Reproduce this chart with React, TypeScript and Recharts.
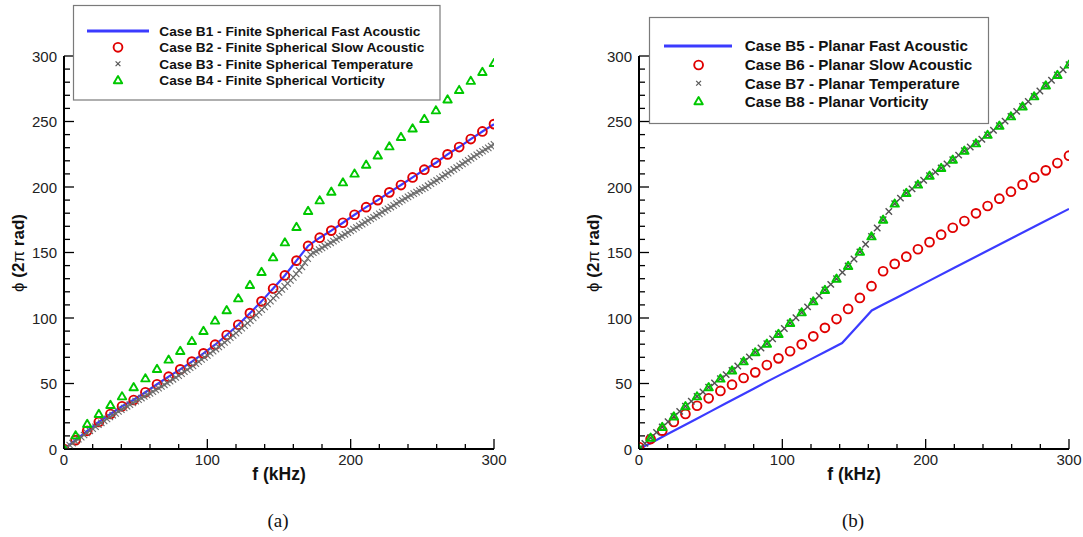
import React from 'react';
import { ComposedChart, XAxis, YAxis, Line, Scatter } from 'recharts';

// ---------- shared sample frequencies (kHz) ----------
const F_COARSE = [0, 8.1, 16.2, 24.3, 32.4, 40.5, 48.6, 56.8, 64.9, 73.0, 81.1, 89.2, 97.3, 105.4, 113.5, 121.6, 129.7, 137.8, 145.9, 154.1, 162.2, 170.3, 178.4, 186.5, 194.6, 202.7, 210.8, 218.9, 227.0, 235.1, 243.2, 251.4, 259.5, 267.6, 275.7, 283.8, 291.9, 300.0];

// ---------- panel (a): finite spherical ----------
const B1_PHASE = [0, 6.8, 13.9, 20.6, 26.7, 32.6, 37.6, 43.3, 49.4, 55.2, 60.8, 66.7, 73.0, 79.6, 87.0, 94.8, 103.7, 112.7, 122.5, 132.5, 143.8, 155.0, 161.3, 166.7, 172.7, 178.8, 184.6, 190.0, 195.9, 201.5, 207.3, 213.2, 218.5, 224.9, 230.5, 236.6, 242.4, 248.0];
const B2_PHASE = [0, 6.8, 13.9, 20.6, 26.7, 32.6, 37.4, 43.3, 49.4, 55.2, 60.8, 66.7, 73.0, 79.6, 87.0, 94.8, 103.7, 112.7, 122.5, 132.5, 143.8, 155.0, 161.3, 166.7, 172.7, 178.8, 184.6, 190.0, 195.9, 201.5, 207.3, 213.2, 218.5, 224.9, 230.5, 236.6, 242.4, 248.0];
const B3_FREQ = [0, 2, 4, 6, 8, 10, 12, 14, 16, 18, 20, 22, 24, 26, 28, 30, 32, 34, 36, 38, 40, 42, 44, 46, 48, 50, 52, 54, 56, 58, 60, 62, 64, 66, 68, 70, 72, 74, 76, 78, 80, 82, 84, 86, 88, 90, 92, 94, 96, 98, 100, 102, 104, 106, 108, 110, 112, 114, 116, 118, 120, 122, 124, 126, 128, 130, 132, 134, 136, 138, 140, 142, 144, 146, 148, 150, 152, 154, 156, 158, 160, 162, 164, 166, 168, 170, 172, 174, 176, 178, 180, 182, 184, 186, 188, 190, 192, 194, 196, 198, 200, 202, 204, 206, 208, 210, 212, 214, 216, 218, 220, 222, 224, 226, 228, 230, 232, 234, 236, 238, 240, 242, 244, 246, 248, 250, 252, 254, 256, 258, 260, 262, 264, 266, 268, 270, 272, 274, 276, 278, 280, 282, 284, 286, 288, 290, 292, 294, 296, 298, 300];
const B3_PHASE = [0, 1.5, 3.0, 4.5, 6.0, 7.5, 9.1, 10.7, 12.3, 13.9, 15.5, 17.0, 18.5, 20.0, 21.5, 23.0, 24.4, 25.8, 27.2, 28.6, 30.0, 31.3, 32.6, 33.9, 35.2, 36.5, 37.7, 38.9, 40.1, 41.3, 42.5, 43.8, 45.1, 46.4, 47.7, 49.0, 50.4, 51.8, 53.2, 54.6, 56.0, 57.5, 59.0, 60.5, 62.0, 63.5, 65.1, 66.7, 68.3, 69.9, 71.5, 73.1, 74.7, 76.3, 77.9, 79.5, 81.3, 83.1, 84.9, 86.7, 88.5, 90.4, 92.3, 94.2, 96.1, 98.0, 100.1, 102.2, 104.3, 106.4, 108.5, 110.7, 112.9, 115.1, 117.3, 119.5, 121.8, 124.1, 126.4, 128.7, 131.0, 133.7, 136.3, 139.0, 142.2, 145.3, 148.5, 149.8, 151.0, 152.3, 153.5, 154.8, 156.1, 157.4, 158.7, 160.0, 161.3, 162.6, 163.9, 165.2, 166.5, 167.8, 169.1, 170.4, 171.7, 173.0, 174.3, 175.6, 176.9, 178.2, 179.5, 180.8, 182.1, 183.4, 184.7, 186.0, 187.3, 188.6, 189.9, 191.2, 192.5, 193.7, 194.9, 196.1, 197.3, 198.5, 199.5, 201.0, 202.5, 203.8, 205.0, 206.4, 207.8, 209.2, 210.6, 212.0, 213.4, 214.8, 216.2, 217.6, 219.0, 220.4, 221.8, 223.2, 224.6, 226.0, 227.3, 228.6, 229.9, 231.2, 232.5];
const B4_PHASE = [0, 10.4, 19.1, 26.7, 33.6, 40.2, 47.1, 53.9, 61.1, 68.2, 74.8, 82.4, 90.1, 98.0, 105.9, 115.0, 125.2, 135.1, 146.3, 157.7, 169.5, 181.7, 189.8, 196.4, 203.5, 210.2, 217.0, 224.1, 231.0, 238.2, 244.7, 251.9, 258.5, 266.8, 274.0, 281.0, 287.8, 294.6];

// ---------- panel (b): planar ----------
const B5_FREQ = [0, 10, 20, 30, 40, 50, 60, 70, 80, 90, 98.5, 110, 120, 130, 141.7, 150, 162.4, 170, 180, 200, 220, 240, 260, 280, 300];
const B5_PHASE = [0, 5.6, 11.4, 17.1, 22.9, 28.7, 34.5, 40.2, 46.0, 51.8, 56.6, 63.0, 68.6, 74.3, 80.9, 90.8, 105.8, 110.1, 115.7, 127.0, 138.3, 149.6, 160.9, 172.1, 183.3];
const B6_PHASE = [1.5, 7.6, 14.0, 20.6, 26.7, 33.0, 38.7, 44.3, 49.1, 54.2, 58.5, 64.1, 69.2, 74.6, 79.9, 86.0, 92.5, 99.2, 106.9, 115.3, 124.3, 135.7, 141.3, 146.8, 152.5, 157.9, 163.6, 168.9, 174.0, 179.9, 185.5, 191.1, 196.4, 201.8, 207.3, 212.7, 218.3, 223.9];
const B7_FREQ = [0, 4.1, 8.1, 12.2, 16.2, 20.3, 24.3, 28.4, 32.4, 36.5, 40.5, 44.6, 48.6, 52.7, 56.8, 60.8, 64.9, 68.9, 73.0, 77.0, 81.1, 85.1, 89.2, 93.2, 97.3, 101.4, 105.4, 109.5, 113.5, 117.6, 121.6, 125.7, 129.7, 133.8, 137.8, 141.9, 145.9, 150.0, 154.1, 158.1, 162.2, 166.2, 170.3, 174.3, 178.4, 182.4, 186.5, 190.5, 194.6, 198.6, 202.7, 206.8, 210.8, 214.9, 218.9, 223.0, 227.0, 231.1, 235.1, 239.2, 243.2, 247.3, 251.4, 255.4, 259.5, 263.5, 267.6, 271.6, 275.7, 279.7, 283.8, 287.8, 291.9, 295.9, 300.0];
const B7_PHASE = [0, 4.3, 8.6, 12.7, 16.8, 20.8, 24.8, 28.7, 32.6, 36.4, 40.2, 43.6, 47.1, 50.4, 53.7, 56.8, 59.9, 63.4, 66.9, 70.3, 73.8, 77.1, 80.4, 84.1, 87.8, 92.0, 96.2, 100.2, 104.3, 108.5, 112.7, 117.0, 121.4, 125.7, 130.0, 134.8, 139.7, 145.0, 150.5, 156.3, 162.3, 168.7, 175.0, 181.3, 187.3, 191.5, 195.4, 198.6, 201.8, 205.2, 208.6, 211.5, 214.5, 217.6, 220.8, 224.3, 227.7, 230.5, 233.3, 236.5, 239.8, 243.3, 246.8, 250.3, 253.9, 257.7, 261.5, 265.3, 269.2, 273.3, 277.5, 281.5, 285.5, 289.5, 293.4];
const B8_PHASE = [0, 8.6, 16.8, 24.8, 32.6, 40.2, 47.1, 53.7, 59.9, 66.9, 73.8, 80.4, 87.8, 96.2, 104.3, 112.7, 121.4, 130.0, 139.7, 150.5, 162.3, 175.0, 187.3, 195.4, 201.8, 208.6, 214.5, 220.8, 227.7, 233.3, 239.8, 246.8, 253.9, 261.5, 269.2, 277.5, 285.5, 293.4];

// ---------- labels / ticks ----------
const LEGEND_A = [
  'Case B1 - Finite Spherical Fast Acoustic',
  'Case B2 - Finite Spherical Slow Acoustic',
  'Case B3 - Finite Spherical Temperature',
  'Case B4 - Finite Spherical Vorticity',
];
const LEGEND_B = [
  'Case B5 - Planar Fast Acoustic',
  'Case B6 - Planar Slow Acoustic',
  'Case B7 - Planar Temperature',
  'Case B8 - Planar Vorticity',
];
const X_TICKS = [0, 20, 40, 60, 80, 100, 120, 140, 160, 180, 200, 220, 240, 260, 280, 300];
const X_MAJOR = [0, 100, 200, 300];
const Y_TICKS = [0, 10, 20, 30, 40, 50, 60, 70, 80, 90, 100, 110, 120, 130, 140, 150, 160, 170, 180, 190, 200, 210, 220, 230, 240, 250, 260, 270, 280, 290, 300];
const Y_MAJOR = [0, 50, 100, 150, 200, 250, 300];

const pts = (fs: number[], vs: number[]) => fs.map((f, i) => ({ f, v: vs[i] }));

const BLUE = '#3b3bff';
const RED = '#e00000';
const GREEN = '#00c800';
const SANS = '"Liberation Sans", Arial, Helvetica, sans-serif';
const SERIF = '"Liberation Serif", "Times New Roman", serif';

const circleShape = (p: any) => (
  <circle cx={p.cx} cy={p.cy} r={4.4} fill="none" stroke={RED} strokeWidth={1.9} />
);
const triShape = (p: any) => (
  <polygon
    points={`${p.cx},${p.cy - 4.2} ${p.cx - 4.2},${p.cy + 3} ${p.cx + 4.2},${p.cy + 3}`}
    fill="none"
    stroke={GREEN}
    strokeWidth={1.9}
    strokeLinejoin="round"
  />
);
const makeCross = (h: number, w: number, color: string) => (p: any) => (
  <g stroke={color} strokeWidth={w}>
    <line x1={p.cx - h} y1={p.cy - h} x2={p.cx + h} y2={p.cy + h} />
    <line x1={p.cx - h} y1={p.cy + h} x2={p.cx + h} y2={p.cy - h} />
  </g>
);
const crossDense = makeCross(3.2, 1.1, '#6a6a6a');
const crossSparse = makeCross(3.2, 1.4, '#505050');
const crossLegend = makeCross(2.4, 1.2, '#555555');

const YTick = (props: any) => {
  const { x, y, payload } = props;
  const major = Y_MAJOR.includes(payload.value);
  return (
    <g>
      <line x1={x} y1={y} x2={x + (major ? 10 : 6)} y2={y} stroke="#000" strokeWidth={1.3} />
      {major && (
        <text x={x - 7} y={y + 5.5} textAnchor="end" fontFamily={SANS} fontSize={15} fill="#222">
          {payload.value}
        </text>
      )}
    </g>
  );
};

const XTick = (props: any) => {
  const { x, y, payload } = props;
  const major = X_MAJOR.includes(payload.value);
  return (
    <g>
      <line x1={x} y1={y} x2={x} y2={y - (major ? 10 : 5)} stroke="#000" strokeWidth={1.3} />
      {major && (
        <text x={x} y={y + 16} textAnchor="middle" fontFamily={SANS} fontSize={15} fill="#222">
          {payload.value}
        </text>
      )}
    </g>
  );
};

type Pt = { f: number; v: number };
type PanelProps = {
  width: number;
  right: number;
  line: Pt[];
  circles: Pt[];
  crosses: Pt[];
  crossShape: (p: any) => React.ReactElement;
  tris: Pt[];
};

const Panel = ({ width, right, line, circles, crosses, crossShape, tris }: PanelProps) => (
  <ComposedChart width={width} height={537} margin={{ top: 56, right, left: 20, bottom: 58 }}>
    <XAxis
      type="number"
      dataKey="f"
      domain={[0, 300]}
      ticks={X_TICKS}
      interval={0}
      tick={<XTick />}
      tickSize={0}
      tickMargin={0}
      tickLine={false}
      height={30}
      axisLine={{ stroke: '#000', strokeWidth: 2 }}
      allowDataOverflow
    />
    <YAxis
      type="number"
      dataKey="v"
      domain={[0, 300]}
      ticks={Y_TICKS}
      interval={0}
      tick={<YTick />}
      tickSize={0}
      tickMargin={0}
      tickLine={false}
      width={44}
      axisLine={{ stroke: '#000', strokeWidth: 2 }}
      allowDataOverflow
    />
    <Line data={line} dataKey="v" type="linear" stroke={BLUE} strokeWidth={2.2} dot={false} isAnimationActive={false} />
    <Scatter data={circles} dataKey="v" shape={circleShape} isAnimationActive={false} />
    <Scatter data={crosses} dataKey="v" shape={crossShape} isAnimationActive={false} />
    <Scatter data={tris} dataKey="v" shape={triShape} isAnimationActive={false} />
  </ComposedChart>
);

const LegendBox = ({
  x, y, w, h, rows, lineX1, lineX2, symX, textX, fontSize, labels,
}: {
  x: number; y: number; w: number; h: number; rows: number[]; lineX1: number; lineX2: number;
  symX: number; textX: number; fontSize: number; labels: string[];
}) => (
  <g>
    <rect x={x} y={y} width={w} height={h} fill="#fff" stroke="#7a7a7a" strokeWidth={1.2} />
    <line x1={lineX1} y1={rows[0]} x2={lineX2} y2={rows[0]} stroke={BLUE} strokeWidth={3} />
    {circleShape({ cx: symX, cy: rows[1] })}
    {crossLegend({ cx: symX, cy: rows[2] })}
    {triShape({ cx: symX, cy: rows[3] })}
    {labels.map((t, i) => (
      <text key={t} x={textX} y={rows[i] + fontSize * 0.36} fontFamily={SANS} fontWeight="bold" fontSize={fontSize} fill="#111">
        {t}
      </text>
    ))}
  </g>
);

const YLabel = ({ cx, cy }: { cx: number; cy: number }) => (
  <text
    transform={`translate(${cx},${cy}) rotate(-90)`}
    textAnchor="middle"
    fontFamily={SANS}
    fontSize={17}
    fill="#111"
  >
    <tspan fontWeight="normal">ϕ</tspan>
    <tspan fontWeight="bold"> (2</tspan>
    <tspan fontWeight="normal">π</tspan>
    <tspan fontWeight="bold"> rad)</tspan>
  </text>
);

export default function App() {
  return (
    <div style={{ position: 'relative', width: 1083, height: 537, background: '#fff', overflow: 'hidden' }}>
      <style>{'body{margin:0;background:#fff}'}</style>
      <div style={{ position: 'absolute', left: 0, top: 0 }}>
        <Panel
          width={540}
          right={46}
          line={pts(F_COARSE, B1_PHASE)}
          circles={pts(F_COARSE, B2_PHASE)}
          crosses={pts(B3_FREQ, B3_PHASE)}
          crossShape={crossDense}
          tris={pts(F_COARSE, B4_PHASE)}
        />
      </div>
      <div style={{ position: 'absolute', left: 575, top: 0 }}>
        <Panel
          width={508}
          right={14}
          line={pts(B5_FREQ, B5_PHASE)}
          circles={pts(F_COARSE, B6_PHASE)}
          crosses={pts(B7_FREQ, B7_PHASE)}
          crossShape={crossSparse}
          tris={pts(F_COARSE, B8_PHASE)}
        />
      </div>
      <svg width={1083} height={537} style={{ position: 'absolute', left: 0, top: 0, pointerEvents: 'none' }}>
        <LegendBox
          x={73.5} y={5.5} w={366.5} h={94.5}
          rows={[31, 47.3, 63.7, 80.3]}
          lineX1={87} lineX2={149} symX={118} textX={159.3} fontSize={13.7}
          labels={LEGEND_A}
        />
        <LegendBox
          x={649.5} y={17.5} w={339} h={106}
          rows={[46, 65, 83.3, 101.3]}
          lineX1={664} lineX2={732} symX={698.6} textX={744.8} fontSize={15.2}
          labels={LEGEND_B}
        />
        <YLabel cx={24} cy={253} />
        <YLabel cx={599} cy={253} />
        <text x={279} y={480} textAnchor="middle" fontFamily={SANS} fontWeight="bold" fontSize={17.5} fill="#111">f (kHz)</text>
        <text x={854} y={480} textAnchor="middle" fontFamily={SANS} fontWeight="bold" fontSize={17.5} fill="#111">f (kHz)</text>
        <text x={278} y={527} textAnchor="middle" fontFamily={SERIF} fontSize={19} fill="#111">(a)</text>
        <text x={853} y={527} textAnchor="middle" fontFamily={SERIF} fontSize={19} fill="#111">(b)</text>
      </svg>
    </div>
  );
}
